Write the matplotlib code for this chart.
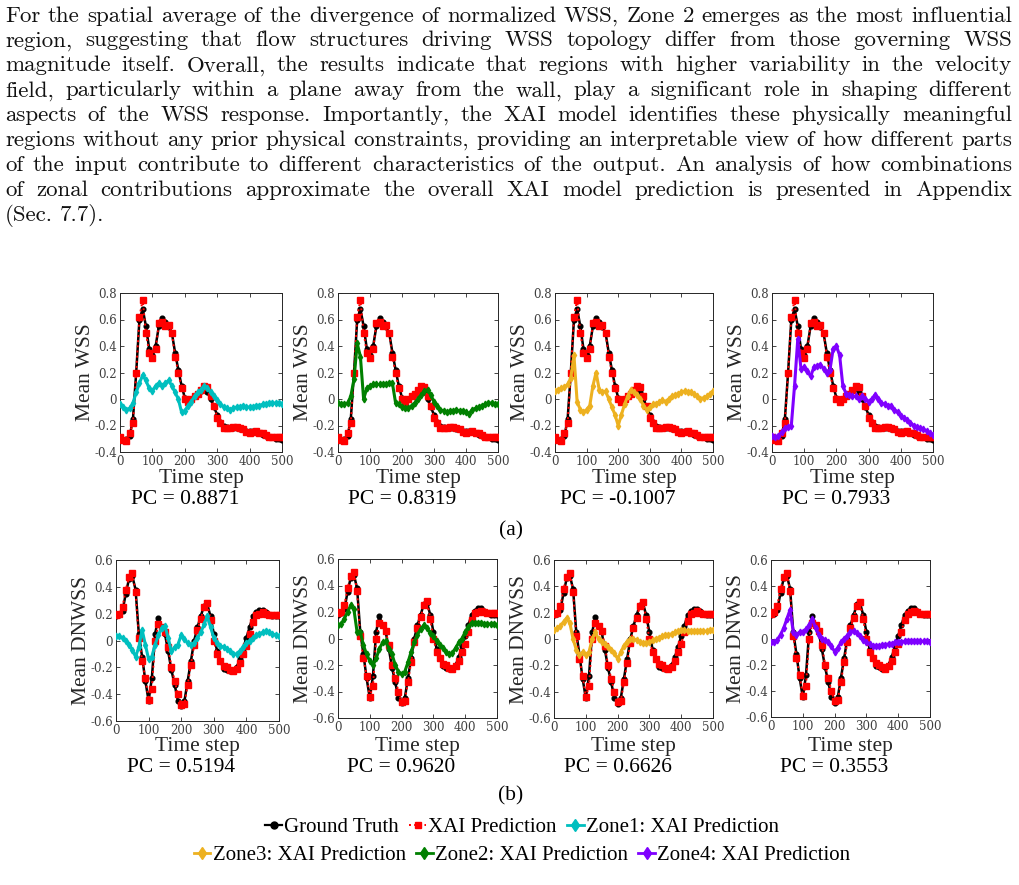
import numpy as np
import matplotlib
matplotlib.use('Agg')
import matplotlib.pyplot as plt
from matplotlib.lines import Line2D

W, H = 1020, 885

# ---------------- text ----------------
paragraph_lines = [
    "For the spatial average of the divergence of normalized WSS, Zone 2 emerges as the most influential",
    "region, suggesting that flow structures driving WSS topology differ from those governing WSS",
    "magnitude itself.  Overall, the results indicate that regions with higher variability in the velocity",
    "field, particularly within a plane away from the wall, play a significant role in shaping different",
    "aspects of the WSS response.  Importantly, the XAI model identifies these physically meaningful",
    "regions without any prior physical constraints, providing an interpretable view of how different parts",
    "of the input contribute to different characteristics of the output. An analysis of how combinations",
    "of zonal contributions approximate the overall XAI model prediction is presented in Appendix",
    "(Sec. 7.7).",
]

# ---------------- data ----------------
t = np.arange(0, 501, 10)

wss_gt = [-0.30, -0.31, -0.30, -0.28, -0.15, 0.20, 0.60, 0.68, 0.55, 0.38, 0.33, 0.40, 0.55, 0.61, 0.58,
          0.54, 0.50, 0.35, 0.22, 0.10, 0.01, -0.02, 0.00, 0.02, 0.04, 0.06, 0.08, 0.05, 0.00, -0.06,
          -0.12, -0.17, -0.20, -0.21, -0.22, -0.22, -0.22, -0.23, -0.23, -0.24, -0.24, -0.24, -0.25,
          -0.26, -0.27, -0.28, -0.29, -0.29, -0.30, -0.30, -0.31]
wss_xai = [-0.29, -0.31, -0.32, -0.26, -0.18, 0.20, 0.62, 0.75, 0.50, 0.35, 0.31, 0.38, 0.57, 0.58, 0.55,
           0.56, 0.50, 0.32, 0.20, 0.08, 0.00, -0.02, 0.00, 0.02, 0.04, 0.07, 0.10, 0.09, 0.02, -0.05,
           -0.14, -0.18, -0.22, -0.22, -0.22, -0.21, -0.21, -0.22, -0.23, -0.25, -0.26, -0.25, -0.24,
           -0.26, -0.26, -0.27, -0.29, -0.29, -0.29, -0.29, -0.29]
wss_z1 = [-0.04, -0.06, -0.08, -0.07, -0.03, 0.05, 0.12, 0.18, 0.14, 0.08, 0.06, 0.10, 0.12, 0.10, 0.12,
          0.14, 0.10, 0.05, 0.00, -0.10, -0.09, -0.05, -0.02, 0.02, 0.05, 0.07, 0.10, 0.08, 0.05, 0.02,
          -0.01, -0.04, -0.06, -0.07, -0.08, -0.07, -0.06, -0.06, -0.05, -0.06, -0.06, -0.06, -0.05,
          -0.05, -0.04, -0.04, -0.03, -0.03, -0.03, -0.03, -0.04]
wss_z2 = [-0.03, -0.04, -0.04, -0.03, 0.02, 0.15, 0.42, 0.32, 0.00, 0.08, 0.10, 0.11, 0.11, 0.11, 0.11,
          0.11, 0.12, 0.12, -0.03, -0.04, -0.06, -0.07, -0.07, -0.05, -0.03, 0.00, 0.03, 0.06, 0.07, 0.03,
          -0.02, -0.05, -0.08, -0.09, -0.10, -0.09, -0.09, -0.08, -0.09, -0.09, -0.10, -0.11, -0.08,
          -0.07, -0.06, -0.05, -0.04, -0.03, -0.03, -0.04, -0.04]
wss_z3 = [0.06, 0.07, 0.08, 0.09, 0.11, 0.16, 0.33, -0.02, -0.08, -0.10, -0.08, -0.05, 0.10, 0.20, 0.07,
          0.05, 0.06, 0.00, -0.06, -0.12, -0.20, -0.12, -0.04, 0.02, 0.07, 0.05, 0.03, 0.00, -0.05, -0.08,
          -0.06, -0.04, -0.04, -0.02, -0.01, -0.02, 0.00, 0.02, 0.03, 0.04, 0.05, 0.06, 0.05, 0.05, 0.04,
          0.02, 0.00, 0.01, 0.02, 0.04, 0.06]
wss_z4 = [-0.28, -0.29, -0.28, -0.25, -0.22, -0.21, -0.20, 0.10, 0.45, 0.23, 0.24, 0.21, 0.17, 0.24, 0.25,
          0.26, 0.23, 0.20, 0.22, 0.38, 0.40, 0.33, 0.10, 0.04, 0.03, 0.02, 0.02, 0.00, 0.02, 0.00,
          -0.02, 0.00, 0.03, 0.00, -0.03, -0.04, -0.05, -0.05, -0.08, -0.10, -0.13, -0.14, -0.16, -0.18,
          -0.20, -0.21, -0.22, -0.23, -0.24, -0.26, -0.27]

dn_gt = [0.18, 0.19, 0.22, 0.35, 0.46, 0.48, 0.38, 0.05, -0.12, -0.30, -0.45, -0.28, 0.05, 0.17, 0.10,
         0.05, -0.08, -0.22, -0.33, -0.45, -0.49, -0.45, -0.30, -0.15, 0.00, 0.10, 0.18, 0.26, 0.27, 0.18,
         0.05, -0.08, -0.15, -0.21, -0.22, -0.23, -0.23, -0.20, -0.14, -0.06, 0.02, 0.10, 0.18, 0.21,
         0.23, 0.23, 0.21, 0.19, 0.18, 0.18, 0.18]
dn_xai = [0.19, 0.20, 0.25, 0.38, 0.47, 0.50, 0.36, 0.02, -0.15, -0.28, -0.44, -0.36, 0.00, 0.12, 0.10,
          0.06, -0.05, -0.20, -0.30, -0.40, -0.48, -0.47, -0.33, -0.18, -0.03, 0.08, 0.16, 0.25, 0.28,
          0.15, 0.00, -0.10, -0.15, -0.19, -0.20, -0.22, -0.23, -0.21, -0.17, -0.10, -0.04, 0.05, 0.14,
          0.19, 0.20, 0.21, 0.20, 0.19, 0.19, 0.19, 0.19]
dn_z1 = [0.03, 0.03, 0.02, 0.00, -0.03, -0.07, -0.12, -0.05, 0.08, -0.03, -0.14, -0.12, -0.03, 0.04, 0.09,
         0.11, 0.02, -0.08, -0.05, -0.03, 0.04, 0.01, -0.02, -0.03, -0.02, 0.02, 0.06, 0.12, 0.18, 0.10,
         0.02, -0.02, -0.04, -0.05, -0.06, -0.08, -0.10, -0.10, -0.08, -0.05, -0.02, 0.00, 0.02, 0.04,
         0.05, 0.06, 0.07, 0.06, 0.05, 0.04, 0.03]
dn_z2 = [0.10, 0.11, 0.15, 0.20, 0.25, 0.22, 0.05, 0.05, -0.05, -0.12, -0.17, -0.20, -0.15, -0.08, -0.03,
         -0.02, -0.08, -0.12, -0.20, -0.25, -0.27, -0.25, -0.18, -0.10, -0.03, 0.03, 0.07, 0.10, 0.08,
         0.04, 0.02, -0.02, -0.05, -0.07, -0.10, -0.12, -0.11, -0.07, -0.03, 0.00, 0.05, 0.09, 0.12,
         0.12, 0.12, 0.12, 0.11, 0.11, 0.11, 0.11, 0.10]
dn_z3 = [0.07, 0.08, 0.10, 0.13, 0.16, 0.12, 0.00, -0.08, -0.12, -0.10, -0.12, -0.10, 0.00, 0.05, 0.00,
         -0.02, -0.04, -0.06, -0.08, -0.11, -0.15, -0.10, -0.05, -0.02, 0.00, 0.00, -0.01, -0.02, -0.03,
         -0.03, -0.02, -0.01, 0.00, 0.01, 0.02, 0.03, 0.03, 0.04, 0.05, 0.06, 0.07, 0.07, 0.06, 0.06,
         0.06, 0.06, 0.06, 0.06, 0.06, 0.07, 0.07]
dn_z4 = [-0.03, -0.03, -0.01, 0.03, 0.08, 0.15, 0.22, 0.05, 0.03, 0.05, 0.05, 0.07, 0.10, 0.15, 0.08,
         0.03, 0.00, -0.01, -0.03, -0.06, -0.10, -0.07, -0.03, 0.00, 0.02, 0.05, 0.06, 0.04, 0.02, -0.01,
         -0.03, -0.04, -0.06, -0.06, -0.06, -0.05, -0.05, -0.04, -0.04, -0.03, -0.03, -0.03, -0.02,
         -0.02, -0.02, -0.02, -0.02, -0.02, -0.02, -0.02, -0.03]

wss_pc = ["0.8871", "0.8319", "-0.1007", "0.7933"]
dn_pc = ["0.5194", "0.9620", "0.6626", "0.3553"]

xticks = [0, 100, 200, 300, 400, 500]
wss_yticks = [-0.4, -0.2, 0, 0.2, 0.4, 0.6, 0.8]
wss_yticklabels = ["-0.4", "-0.2", "0", "0.2", "0.4", "0.6", "0.8"]
dn_yticks = [-0.6, -0.4, -0.2, 0, 0.2, 0.4, 0.6]
dn_yticklabels = ["-0.6", "-0.4", "-0.2", "0", "0.2", "0.4", "0.6"]

zone_names = ["Zone1: XAI Prediction", "Zone2: XAI Prediction", "Zone3: XAI Prediction", "Zone4: XAI Prediction"]
zone_colors = ["#00BFBF", "#008000", "#EDB120", "#7F00FF"]

# ---------------- figure ----------------
fig = plt.figure(figsize=(W / 100, H / 100), dpi=100)
renderer = fig.canvas.get_renderer()

SERIF = ['Liberation Serif', 'DejaVu Serif']

# justified paragraph
x_left, x_right = 5, 1012
for i, line in enumerate(paragraph_lines):
    words = line.split()
    yb = 1 - (21.5 + 24.9 * i) / H
    texts = [fig.text(0, yb, w, fontsize=16.5, family='cmr10', va='baseline', ha='left', color='#111111')
             for w in words]
    widths = [tt.get_window_extent(renderer).width for tt in texts]
    if i < len(paragraph_lines) - 1 and len(words) > 1:
        gap = (x_right - x_left - sum(widths)) / (len(words) - 1)
    else:
        gap = 6.5
    x = x_left
    for tt, wd in zip(texts, widths):
        tt.set_x(x / W)
        x += wd + gap


def add_ax(left, top, w, h):
    return fig.add_axes([left / W, 1 - (top + h) / H, w / W, h / H])


top_boxes = [(120, 293, 162, 159), (338, 293, 160, 159), (555, 293, 158, 159), (772, 293, 161, 159)]
bot_boxes = [(116, 560, 163, 161), (338, 559, 159, 159), (554, 560, 159, 158), (771, 560, 159, 157)]

rows = [
    dict(boxes=top_boxes, gt=wss_gt, xai=wss_xai, zones=[wss_z1, wss_z2, wss_z3, wss_z4],
         ylim=(-0.4, 0.8), yt=wss_yticks, ytl=wss_yticklabels, ylabel="Mean WSS", pc=wss_pc,
         xlab_y=478, pc_y=500),
    dict(boxes=bot_boxes, gt=dn_gt, xai=dn_xai, zones=[dn_z1, dn_z2, dn_z3, dn_z4],
         ylim=(-0.6, 0.6), yt=dn_yticks, ytl=dn_yticklabels, ylabel="Mean DNWSS", pc=dn_pc,
         xlab_y=746, pc_y=768),
]

for row in rows:
    for k, (l, tp, w, h) in enumerate(row['boxes']):
        ax = add_ax(l, tp, w, h)
        ax.plot(t, row['gt'], '-o', color='black', lw=1.8, ms=3.4, zorder=3)
        ax.plot(t, row['xai'], ':s', color='red', lw=1.4, ms=4.0, zorder=4)
        ax.plot(t, row['zones'][k], '-d', color=zone_colors[k], lw=2.2, ms=3.4, zorder=5)
        ax.set_xlim(0, 500)
        ax.set_ylim(*row['ylim'])
        ax.set_xticks(xticks)
        ax.set_xticklabels([str(v) for v in xticks])
        ax.set_yticks(row['yt'])
        ax.set_yticklabels(row['ytl'])
        ax.tick_params(direction='in', length=3, width=0.6, top=True, right=True,
                       labelsize=8.5, labelcolor='#404040', color='#262626', pad=2)
        for lab in ax.get_xticklabels() + ax.get_yticklabels():
            lab.set_family('DejaVu Serif')
        for sp in ax.spines.values():
            sp.set_linewidth(0.7)
            sp.set_color('#262626')
        ax.set_ylabel(row['ylabel'], fontsize=15.5, family=SERIF, color='#262626')
        ax.yaxis.set_label_coords(-34 / w, 0.5)
        ax.yaxis.label.set_va('center')
        ax.set_xlabel("Time step", fontsize=15.5, family=SERIF, color='#262626')
        ax.xaxis.set_label_coords(0.5, -(row['xlab_y'] - (tp + h)) / h)
        ax.xaxis.label.set_va('center')
        fig.text((l + w / 2 - 16) / W, 1 - row['pc_y'] / H, "PC = " + row['pc'][k],
                 fontsize=15.5, family=SERIF, ha='center', va='center', color='black')

fig.text(511 / W, 1 - 531 / H, "(a)", fontsize=15.5, family=SERIF, ha='center', va='center')
fig.text(511 / W, 1 - 796 / H, "(b)", fontsize=15.5, family=SERIF, ha='center', va='center')

h_gt = Line2D([], [], color='black', marker='o', ls='-', lw=1.6, ms=5)
h_xai = Line2D([], [], color='red', marker='s', ls=':', lw=1.4, ms=5)
h_z = [Line2D([], [], color=c, marker='d', ls='-', lw=2.0, ms=6) for c in zone_colors]

leg_kw = dict(frameon=False, loc='center', handlelength=0.8, handletextpad=0.1, columnspacing=0.5,
              borderpad=0, borderaxespad=0, prop={'family': SERIF, 'size': 15})
fig.legend([h_gt, h_xai, h_z[0]], ["Ground Truth", "XAI Prediction", zone_names[0]], ncol=3,
           bbox_to_anchor=(522 / W, 1 - 827 / H), **leg_kw)
fig.legend([h_z[2], h_z[1], h_z[3]], [zone_names[2], zone_names[1], zone_names[3]], ncol=3,
           bbox_to_anchor=(522 / W, 1 - 855 / H), **leg_kw)

fig.savefig("out.png", dpi=100, facecolor='white')
